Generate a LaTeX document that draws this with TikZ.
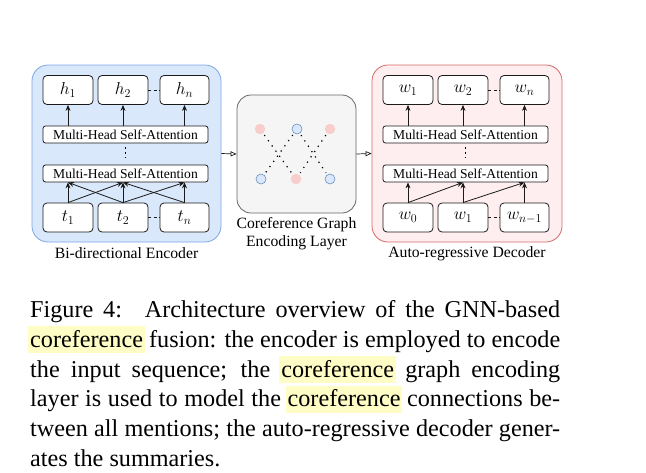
\documentclass[tikz,border=0pt]{standalone}
\usepackage{fontspec}
\setmainfont{Liberation Serif}
\usetikzlibrary{arrows.meta}
\definecolor{encF}{HTML}{DAE8FC}
\definecolor{encB}{HTML}{7EA6E0}
\definecolor{decF}{HTML}{FFEEEF}
\definecolor{decB}{HTML}{D46A6A}
\definecolor{midF}{HTML}{F5F5F5}
\definecolor{midB}{HTML}{666666}
\definecolor{pinkC}{HTML}{F8CECC}
\definecolor{blueC}{HTML}{DAE8FC}
\definecolor{blueCB}{HTML}{6C8EBF}
\definecolor{hl}{HTML}{FEFDC6}
\definecolor{ink}{HTML}{1A1A1A}
\newcommand\hlw[1]{\sbox0{#1}\rlap{\hspace*{-2pt}\textcolor{hl}{\rule[-6pt]{\dimexpr\wd0+4pt\relax}{27pt}}}\box0\relax}
\tikzset{
  container/.style={line width=0.8pt, rounded corners=16pt},
  tok/.style={draw=ink, fill=white, line width=0.8pt, rounded corners=4pt, minimum height=29pt, inner sep=0pt, font=\fontsize{17}{20}\selectfont},
  mhsa/.style={draw=ink, fill=white, line width=0.8pt, rounded corners=2.5pt, minimum width=165pt, minimum height=17pt, inner sep=0pt, font=\fontsize{13.6}{16}\selectfont},
  arr/.style={draw=ink, line width=0.8pt, -{Stealth[length=6pt,width=5pt]}},
  link/.style={draw=ink, line width=0.7pt, -{Triangle[open,length=6pt,width=5pt]}},
  gap/.style={draw=ink, line width=0.7pt, dash pattern=on 3pt off 2.5pt},
  vdots/.style={draw=black, line width=1.3pt, dash pattern=on 1.3pt off 3.5pt},
  gdots/.style={draw=black, line width=1.2pt, dash pattern=on 1.2pt off 5.2pt, shorten <=2pt, shorten >=2pt},
  lab/.style={inner sep=0pt, font=\fontsize{15.7}{19}\selectfont, align=center},
  pinkn/.style={circle, fill=pinkC, minimum size=10.5pt, inner sep=0pt},
  bluen/.style={circle, fill=blueC, draw=blueCB, line width=0.6pt, minimum size=10pt, inner sep=0pt},
  capl/.style={anchor=base west, inner sep=0pt, font=\fontsize{24.2}{29.8}\selectfont}
}
\begin{document}
\begin{tikzpicture}[x=1pt,y=-1pt]
\useasboundingbox (0,0) rectangle (646,472);
% containers
\node[container, draw=encB, fill=encF, minimum width=189pt, minimum height=177pt] (enc) at (126.5,153.5) {};
\node[container, draw=decB, fill=decF, minimum width=190pt, minimum height=177pt] (dec) at (467,153.5) {};
\node[container, draw=midB, fill=midF, rounded corners=14pt, minimum width=119pt, minimum height=118pt] (mid) at (296.5,154) {};
% encoder
\node[tok, minimum width=50pt] (h1) at (68,90) {$h_1$};
\node[tok, minimum width=50pt] (h2) at (123,90) {$h_2$};
\node[tok, minimum width=49pt] (hn) at (184.5,90) {$h_n$};
\node[mhsa] (et) at (125.5,134.5) {Multi-Head Self-Attention};
\node[mhsa] (eb) at (125.5,173.5) {Multi-Head Self-Attention};
\node[tok, minimum width=50pt] (t1) at (68,217.5) {$t_1$};
\node[tok, minimum width=50pt] (t2) at (123,217.5) {$t_2$};
\node[tok, minimum width=49pt] (tn) at (184.5,217.5) {$t_n$};
\draw[gap] (h2.east) -- (hn.west);
\draw[gap] (t2.east) -- (tn.west);
\draw[vdots] ([yshift=-4pt]et.south) -- ([yshift=4pt]eb.north);
\draw[arr] (h1.south |- et.north) -- (h1.south);
\draw[arr] (h2.south |- et.north) -- (h2.south);
\draw[arr] (hn.south |- et.north) -- (hn.south);
\draw[arr] (t1.north) -- (t1.north |- eb.south);
\draw[arr] (t2.north) -- (t2.north |- eb.south);
\draw[arr] (tn.north) -- (tn.north |- eb.south);
\draw[arr] (t1.north) -- (t2.north |- eb.south);
\draw[arr] (t2.north) -- (t1.north |- eb.south);
\draw[arr] (t2.north) -- (tn.north |- eb.south);
\draw[arr] (tn.north) -- (t2.north |- eb.south);
\node[lab] (enclab) at (126.5,253.5) {Bi-directional Encoder};
% decoder
\node[tok, minimum width=50pt] (w1) at (408,90) {$w_1$};
\node[tok, minimum width=50pt] (w2) at (463,90) {$w_2$};
\node[tok, minimum width=49pt] (wn) at (524.5,90) {$w_n$};
\node[mhsa] (dt) at (465.5,134.5) {Multi-Head Self-Attention};
\node[mhsa] (db) at (465.5,173.5) {Multi-Head Self-Attention};
\node[tok, minimum width=50pt] (w0) at (408,217.5) {$w_0$};
\node[tok, minimum width=50pt] (w1b) at (463,217.5) {$w_1$};
\node[tok, minimum width=49pt] (wm) at (524.5,217.5) {$w_{n-1}$};
\draw[gap] (w2.east) -- (wn.west);
\draw[gap] (w1b.east) -- (wm.west);
\draw[vdots] ([yshift=-4pt]dt.south) -- ([yshift=4pt]db.north);
\draw[arr] (w1.south |- dt.north) -- (w1.south);
\draw[arr] (w2.south |- dt.north) -- (w2.south);
\draw[arr] (wn.south |- dt.north) -- (wn.south);
\draw[arr] (w0.north) -- (w0.north |- db.south);
\draw[arr] (w1b.north) -- (w1b.north |- db.south);
\draw[arr] (wm.north) -- (wm.north |- db.south);
\draw[arr] (w0.north) -- (w1b.north |- db.south);
\draw[arr] (w1b.north) -- (wm.north |- db.south);
\node[lab] (declab) at (467,253.5) {Auto-regressive Decoder};
% middle graph
\node[pinkn] (c1) at (260,129) {};
\node[bluen] (c2) at (297,129) {};
\node[pinkn] (c3) at (330,129) {};
\node[bluen] (c4) at (261,179) {};
\node[pinkn] (c5) at (296,179) {};
\node[bluen] (c6) at (330,179) {};
\draw[gdots] (c1) -- (c5);
\draw[gdots] (c3) -- (c5);
\draw[gdots] (c2) -- (c4);
\draw[gdots] (c2) -- (c6);
\node[lab] (midlab) at (296.5,233.5) {Coreference Graph\\[-0.5pt]Encoding Layer};
% links
\draw[link] (enc.east) -- (mid.west);
\draw[link] (mid.east) -- (dec.west);
% caption
\node[capl] (cap1) at (30,317) {\makebox[530pt][s]{Figure 4: \hspace{0.3em}Architecture overview of the GNN-based}};
\node[capl] (cap2) at (30,347) {\makebox[530pt][s]{\hlw{coreference} fusion: the encoder is employed to encode}};
\node[capl] (cap3) at (30,377) {\makebox[530pt][s]{the input sequence; the \hlw{coreference} graph encoding}};
\node[capl] (cap4) at (30,406.5) {\makebox[530pt][s]{layer is used to model the \hlw{coreference} connections be-}};
\node[capl] (cap5) at (30,436) {\makebox[530pt][s]{tween all mentions; the auto-regressive decoder gener-}};
\node[capl] (cap6) at (30,466) {ates the summaries.};
\end{tikzpicture}
\end{document}
